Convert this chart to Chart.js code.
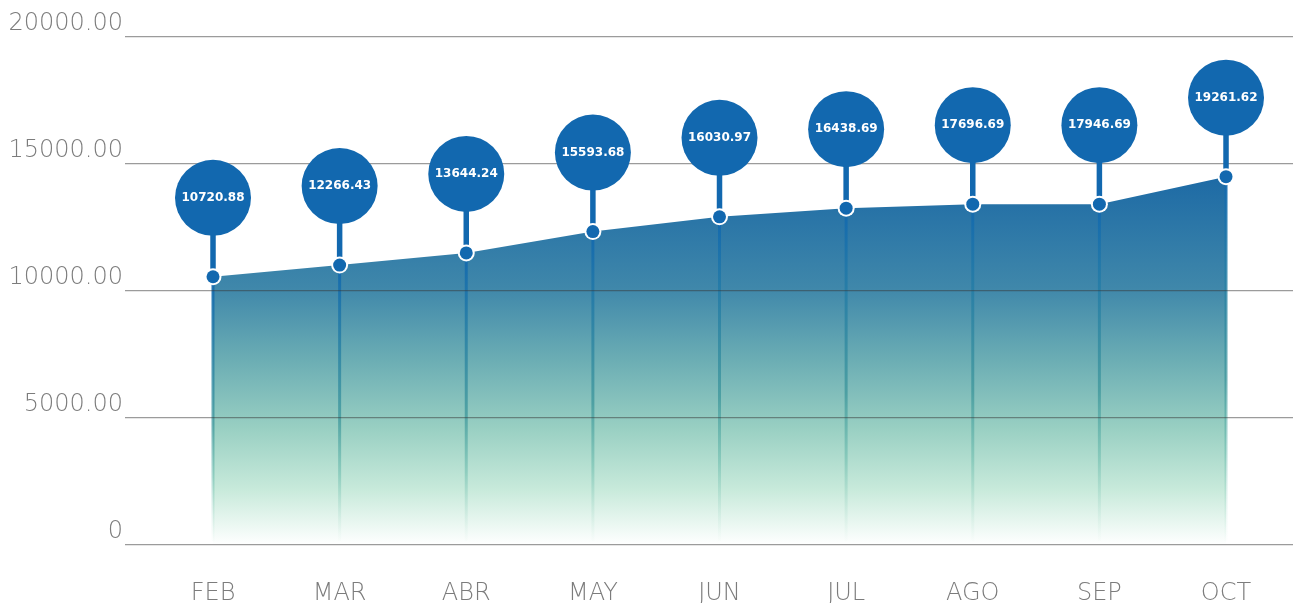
<!DOCTYPE html>
<html>
<head>
<meta charset="utf-8">
<script src="https://cdn.jsdelivr.net/npm/chart.js@4/dist/chart.umd.min.js"></script>
<style>
html,body{margin:0;padding:0;background:#fff;}
#wrap{width:1293px;height:603px;position:relative;}
</style>
</head>
<body>
<div id="wrap"><canvas id="c" width="1293" height="603"></canvas></div>
<script>
const categories = ['FEB','MAR','ABR','MAY','JUN','JUL','AGO','SEP','OCT'];
const areaValues = [10560, 11020, 11500, 12340, 12920, 13260, 13420, 13420, 14500];
const bubbleLabels = ['10720.88','12266.43','13644.24','15593.68','16030.97','16438.69','17696.69','17946.69','19261.62'];
const yTicks = [0, 5000, 10000, 15000, 20000];

const BLUE = '#1268af';

const pinPlugin = {
  id: 'pins',
  afterDatasetsDraw(chart) {
    const ctx = chart.ctx, area = chart.chartArea;
    const meta = chart.getDatasetMeta(0);
    ctx.save();
    meta.data.forEach(pt => {
      const g = ctx.createLinearGradient(0, pt.y, 0, area.bottom);
      g.addColorStop(0, 'rgba(18,104,175,0.95)');
      g.addColorStop(0.55, 'rgba(60,150,155,0.75)');
      g.addColorStop(0.75, 'rgba(100,185,170,0.5)');
      g.addColorStop(1, 'rgba(180,225,205,0)');
      ctx.strokeStyle = g;
      ctx.lineWidth = 3;
      ctx.beginPath();
      ctx.moveTo(pt.x, pt.y);
      ctx.lineTo(pt.x, area.bottom - 4);
      ctx.stroke();
    });
    ctx.restore();
  },
  afterDraw(chart) {
    const ctx = chart.ctx;
    const meta = chart.getDatasetMeta(0);
    ctx.save();
    meta.data.forEach((pt, i) => {
      const by = pt.y - 79;
      ctx.strokeStyle = BLUE;
      ctx.lineWidth = 5.5;
      ctx.beginPath();
      ctx.moveTo(pt.x, pt.y);
      ctx.lineTo(pt.x, by);
      ctx.stroke();
      ctx.fillStyle = BLUE;
      ctx.beginPath();
      ctx.arc(pt.x, by, 38, 0, Math.PI * 2);
      ctx.fill();
      ctx.beginPath();
      ctx.arc(pt.x, pt.y, 8.5, 0, Math.PI * 2);
      ctx.fillStyle = '#ffffff';
      ctx.fill();
      ctx.beginPath();
      ctx.arc(pt.x, pt.y, 6.5, 0, Math.PI * 2);
      ctx.fillStyle = BLUE;
      ctx.fill();
      ctx.fillStyle = '#ffffff';
      ctx.font = 'bold 12px "DejaVu Sans"';
      ctx.textAlign = 'center';
      ctx.textBaseline = 'middle';
      ctx.fillText(bubbleLabels[i], pt.x, by);
    });
    ctx.restore();
  }
};

const chart = new Chart(document.getElementById('c'), {
  type: 'line',
  data: {
    datasets: [{
      data: areaValues.map((v, i) => ({x: i, y: v})),
      fill: 'origin',
      tension: 0,
      borderWidth: 0,
      borderColor: 'rgba(0,0,0,0)',
      backgroundColor: (context) => {
        const c = context.chart;
        const a = c.chartArea;
        if (!a) return '#4f95ae';
        const g = c.ctx.createLinearGradient(0, c.scales.y.getPixelForValue(14500), 0, a.bottom);
        g.addColorStop(0, '#1d6aa5');
        g.addColorStop(0.3, '#3f87aa');
        g.addColorStop(0.5, '#6caeb4');
        g.addColorStop(0.68, '#98cfc2');
        g.addColorStop(0.85, '#c8eadb');
        g.addColorStop(1, '#ffffff');
        return g;
      },
      pointRadius: 0,
      pointHoverRadius: 0
    }]
  },
  options: {
    responsive: false,
    animation: false,
    events: [],
    layout: {padding: {top: 37, left: 0, right: 0, bottom: 0}},
    plugins: {legend: {display: false}, tooltip: {enabled: false}},
    scales: {
      x: {
        type: 'linear',
        min: -0.695,
        max: 8.529,
        afterBuildTicks(scale) { scale.ticks = categories.map((c, i) => ({value: i})); },
        afterFit(scale) { scale.height = 58; scale.paddingLeft = 0; scale.paddingRight = 0; },
        grid: {display: false, drawTicks: false},
        border: {display: false},
        ticks: {
          autoSkip: false,
          maxRotation: 0,
          padding: 34,
          color: '#7c7c7c',
          font: {family: '"DejaVu Sans"', size: 24, weight: '200'},
          callback: (v) => categories[v] ?? ''
        }
      },
      y: {
        min: 0,
        max: 20000,
        afterBuildTicks(scale) { scale.ticks = yTicks.map(v => ({value: v})); },
        afterFit(scale) { scale.width = 125; scale.paddingTop = 0; scale.paddingBottom = 0; },
        grid: {color: 'rgba(55,55,55,0.5)', lineWidth: 1.2, drawTicks: false, z: 1},
        border: {display: false},
        ticks: {
          padding: 2,
          labelOffset: -13,
          color: '#7c7c7c',
          font: {family: '"DejaVu Sans"', size: 24, weight: '200'},
          callback: (v) => v === 0 ? '0' : Number(v).toFixed(2)
        }
      }
    }
  },
  plugins: [pinPlugin]
});
</script>
</body>
</html>
